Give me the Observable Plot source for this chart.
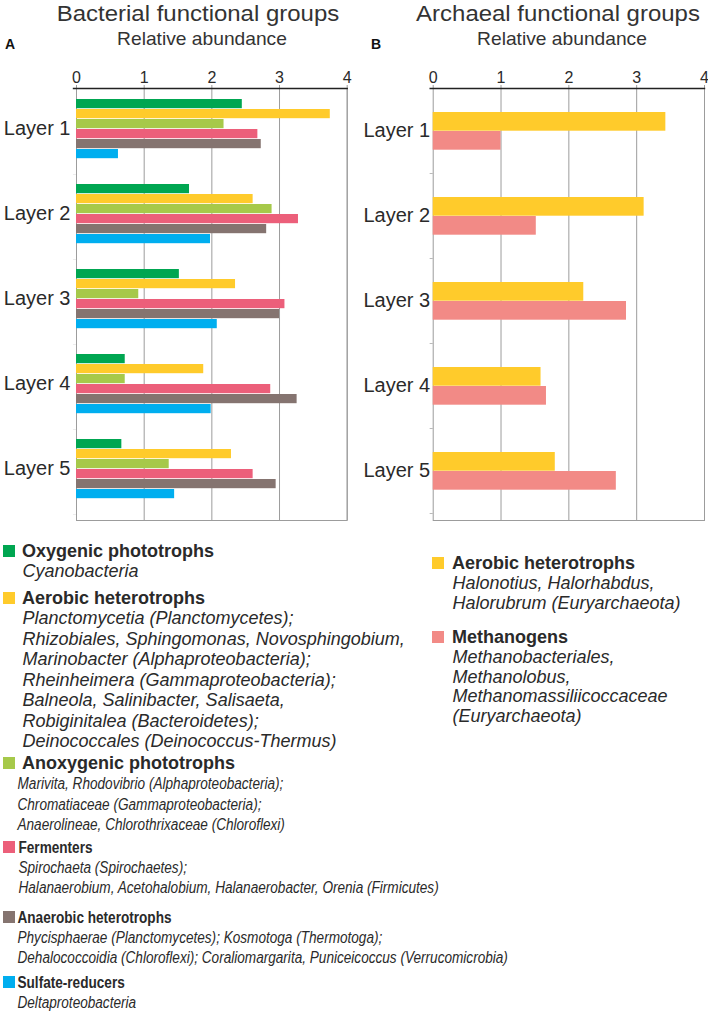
<!DOCTYPE html>
<html>
<head>
<meta charset="utf-8">
<script src="https://cdn.jsdelivr.net/npm/d3@7"></script>
<script src="https://cdn.jsdelivr.net/npm/@observablehq/plot@0.6"></script>
<style>
  body { margin: 0; background: #fff; }
  #wrap { position: relative; width: 708px; height: 1015px; overflow: hidden; font-family: "Liberation Sans", Arial, sans-serif; }
  #wrap > svg { position: absolute; top: 0; margin: 0; }
</style>
</head>
<body>
<div id="wrap"></div>
<script>
// ---------------- DATA ----------------
const layers = ["Layer 1", "Layer 2", "Layer 3", "Layer 4", "Layer 5"];
const ticks = [0, 1, 2, 3, 4];

const bacGroups = ["Oxygenic phototrophs", "Aerobic heterotrophs", "Anoxygenic phototrophs",
                   "Fermenters", "Anaerobic heterotrophs", "Sulfate-reducers"];
const oxygenic   = [2.45, 1.67, 1.52, 0.72, 0.67];
const aerobicBac = [3.75, 2.61, 2.35, 1.88, 2.29];
const anoxygenic = [2.18, 2.89, 0.92, 0.72, 1.37];
const fermenters = [2.68, 3.28, 3.08, 2.87, 2.61];
const anaerobic  = [2.73, 2.81, 3.00, 3.26, 2.95];
const sulfate    = [0.62, 1.98, 2.08, 1.99, 1.45];

const arcGroups = ["Aerobic heterotrophs", "Methanogens"];
const aerobicArc  = [3.43, 3.11, 2.22, 1.59, 1.80];
const methanogens = [1.00, 1.52, 2.85, 1.67, 2.70];

const bacTaxa = [
  ["Cyanobacteria"],
  ["Planctomycetia (Planctomycetes);",
   "Rhizobiales, Sphingomonas, Novosphingobium,",
   "Marinobacter (Alphaproteobacteria);",
   "Rheinheimera (Gammaproteobacteria);",
   "Balneola, Salinibacter, Salisaeta,",
   "Robiginitalea (Bacteroidetes);",
   "Deinococcales (Deinococcus-Thermus)"],
  ["Marivita, Rhodovibrio (Alphaproteobacteria);",
   "Chromatiaceae (Gammaproteobacteria);",
   "Anaerolineae, Chlorothrixaceae (Chloroflexi)"],
  ["Spirochaeta (Spirochaetes);",
   "Halanaerobium, Acetohalobium, Halanaerobacter, Orenia (Firmicutes)"],
  ["Phycisphaerae (Planctomycetes); Kosmotoga (Thermotoga);",
   "Dehalococcoidia (Chloroflexi); Coraliomargarita, Puniceicoccus (Verrucomicrobia)"],
  ["Deltaproteobacteria"]
];
const arcTaxa = [
  ["Halonotius, Halorhabdus,", "Halorubrum (Euryarchaeota)"],
  ["Methanobacteriales,", "Methanolobus,", "Methanomassiliicoccaceae", "(Euryarchaeota)"]
];

// ---------------- STYLE / LAYOUT ----------------
const bacColors = ["#00a651", "#ffcb2b", "#a6c94a", "#ec5f7a", "#857470", "#00aeef"];
const arcColors = ["#ffcb2b", "#f28a86"];
const FONT = "'Liberation Sans', Arial, sans-serif";
const gridColor = "#9c9c9c";
const textColor = "#2a2a2a";

function panel(series, colors, o) {
  const top = 88, bottom = 520, height = 530;
  const band = (bottom - top - o.insetBottom) / layers.length;
  return Plot.plot({
    width: o.width, height,
    marginTop: top, marginBottom: height - bottom,
    marginLeft: o.marginLeft, marginRight: o.marginRight,
    x: {domain: [0, 4], axis: null},
    y: {domain: layers, padding: 0, insetBottom: o.insetBottom, axis: null},
    style: {fontFamily: FONT, background: "transparent", overflow: "visible", color: textColor},
    marks: [
      Plot.gridX(ticks.filter(t => t > 0), {stroke: gridColor, strokeOpacity: 1}),
      Plot.frame({stroke: gridColor}),
      ...series.map((vals, i) => Plot.barX(layers, {
        y: d => d, x1: 0, x2: (d, j) => vals[j], fill: colors[i],
        insetTop: o.barOffset + i * o.barSize,
        insetBottom: band - o.barOffset - (i + 1) * o.barSize
      })),
      Plot.barX(layers, {y: d => d, x1: -0.045, x2: 0, fill: gridColor, insetTop: band - 1}),
      Plot.axisX(ticks, {anchor: "top", tickSize: 4, tickPadding: 2, fontSize: 16,
                         stroke: gridColor, fill: textColor, label: null}),
      Plot.frame({anchor: "top", stroke: "#222", strokeWidth: 1.4, insetLeft: -3}),
      Plot.axisY({anchor: "left", tickSize: 0, tickPadding: o.tickPadding, fontSize: 20,
                  dy: o.labelDy, fill: textColor, label: null})
    ]
  });
}

const wrap = document.getElementById("wrap");

const svgA = panel([oxygenic, aerobicBac, anoxygenic, fermenters, anaerobic, sulfate], bacColors,
  {width: 360, marginLeft: 76, marginRight: 13.3, insetBottom: 3, barOffset: 9, barSize: 10,
   tickPadding: 6, labelDy: -4});
svgA.style.left = "0px";
wrap.appendChild(svgA);

const svgB = panel([aerobicArc, methanogens], arcColors,
  {width: 348, marginLeft: 72.7, marginRight: 4, insetBottom: 5.5, barOffset: 23, barSize: 19,
   tickPadding: 3, labelDy: -1});
svgB.style.left = "360px";
wrap.appendChild(svgB);

// ---------------- TITLES & LEGENDS ----------------
const ov = d3.select(wrap).append("svg")
  .attr("width", 708).attr("height", 1015)
  .style("left", "0px").style("pointer-events", "none")
  .attr("font-family", FONT).attr("fill", textColor);

function title(x, main, letter, letterX) {
  ov.append("text").attr("transform", `translate(${x},21) scale(1.09,1)`)
    .attr("text-anchor", "middle")
    .attr("font-size", 22).attr("fill", "#333").text(main);
  ov.append("text").attr("transform", `translate(${x + 4},45) scale(1.08,1)`)
    .attr("text-anchor", "middle")
    .attr("font-size", 17.8).attr("fill", "#333").text("Relative abundance");
  ov.append("text").attr("x", letterX).attr("y", 49).attr("font-size", 14)
    .attr("font-weight", "bold").attr("fill", "#111").text(letter);
}
title(198, "Bacterial functional groups", "A", 5);
title(558, "Archaeal functional groups", "B", 371);

const NARROW = 0.81;
function legendItem(name, color, lines, L) {
  ov.append("rect").attr("x", L.sx).attr("y", L.base - 12).attr("width", 12).attr("height", 12)
    .attr("fill", color);
  const tn = L.titleNarrow;
  ov.append("text")
    .attr("transform", `translate(${tn ? L.nx : L.tx},${L.base}) scale(${tn ? NARROW : 1},1)`)
    .attr("font-size", tn ? 16.8 : 18).attr("font-weight", "bold").text(name);
  lines.forEach((t, k) => {
    const ln = L.linesNarrow;
    ov.append("text")
      .attr("transform", `translate(${ln ? L.nx : L.tx + 0.5},${L.base + (k + 1) * L.lh}) scale(${ln ? NARROW : 1},1)`)
      .attr("font-size", ln ? 16.8 : 18).attr("font-style", "italic").text(t);
  });
}

const bacLegendLayout = [
  {sx: 3, tx: 22, nx: 18, base: 557, lh: 20,   titleNarrow: false, linesNarrow: false},
  {sx: 3, tx: 22, nx: 18, base: 604, lh: 20.45, titleNarrow: false, linesNarrow: false},
  {sx: 3, tx: 22, nx: 17.5, base: 769, lh: 20.3, titleNarrow: false, linesNarrow: true},
  {sx: 3, tx: 22, nx: 18.5, base: 853, lh: 20,  titleNarrow: true,  linesNarrow: true},
  {sx: 3, tx: 22, nx: 17.5, base: 923, lh: 20,  titleNarrow: true,  linesNarrow: true},
  {sx: 3, tx: 22, nx: 17.5, base: 988, lh: 19.5, titleNarrow: true, linesNarrow: true}
];
bacGroups.forEach((g, i) => legendItem(g, bacColors[i], bacTaxa[i], bacLegendLayout[i]));

const arcLegendLayout = [
  {sx: 432, tx: 452, nx: 452, base: 569, lh: 20,   titleNarrow: false, linesNarrow: false},
  {sx: 432, tx: 452, nx: 452, base: 643, lh: 19.8, titleNarrow: false, linesNarrow: false}
];
arcGroups.forEach((g, i) => legendItem(g, arcColors[i], arcTaxa[i], arcLegendLayout[i]));
</script>
</body>
</html>
